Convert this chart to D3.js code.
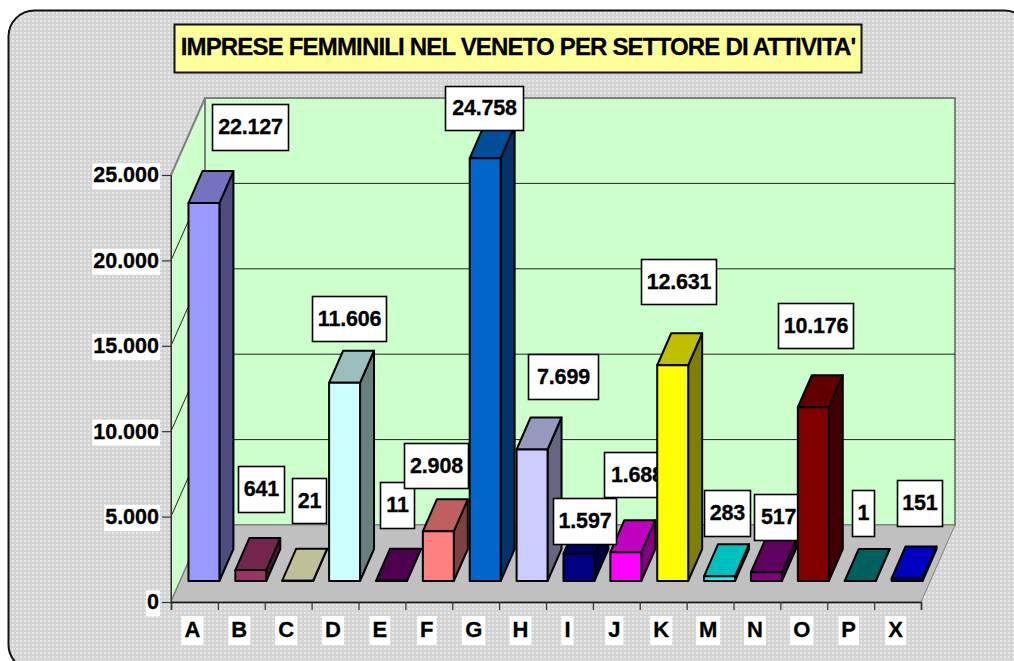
<!DOCTYPE html>
<html><head><meta charset="utf-8">
<script src="https://cdn.jsdelivr.net/npm/d3@7"></script>
<style>
html,body{margin:0;padding:0;background:#fff;overflow:hidden}
svg{display:block}
text{font-family:"Liberation Sans",Arial,sans-serif;font-weight:bold;fill:#000;stroke:#000;stroke-width:.3px}
</style></head><body>
<svg id="c" width="1014" height="661"></svg>
<script>
const categories=["A","B","C","D","E","F","G","H","I","J","K","M","N","O","P","X"];
const values=[22127,641,21,11606,11,2908,24758,7699,1597,1688,12631,283,517,10176,1,151];
const colors=["#9999FF","#993366","#FFFFCC","#CCFFFF","#660066","#FF8080","#0066CC","#CCCCFF","#000080","#FF00FF","#FFFF00","#00FFFF","#800080","#800000","#008080","#0000FF"];
const titleText="IMPRESE FEMMINILI NEL VENETO PER SETTORE DI ATTIVITA'";
const yTicks=[0,5000,10000,15000,20000,25000];
// label box left, top, right, bottom (manually placed in the reference)
const labelBoxes=[[212,104,289,151],[238,466,285,513],[292,478,327,524],[312,296,387,342],[380,482,415,529],[404,443,469,489],[445,86,524,131],[528,354,599,400],[553,498,617,545],[604,452,680,498],[641,259,717,305],[704,490,751,537],[754,494,830,541],[778,303,854,349],[852,490,875,537],[897,480,943,527]];

const plotLeft=171,plotRight=921,plotBase=602,plotTop=175,dx=34,dy=-77;
const barDx=14,barDy=-32,barBase=581,barShift=9.5;
const svg=d3.select("#c");
const fmt=d3.formatLocale({decimal:",",thousands:".",grouping:[3],currency:["",""]}).format(",d");
const x=d3.scaleBand().domain(categories).range([plotLeft,plotRight]).paddingInner(0.34).paddingOuter(0.17);
const y=d3.scaleLinear().domain([0,25000]).range([plotBase,plotTop]);
const h=v=>plotBase-y(v);
const pts=a=>a.map(p=>p.join(",")).join(" ");

// background
const defs=svg.append("defs");
const pat=defs.append("pattern").attr("id","dots").attr("width",4).attr("height",4).attr("patternUnits","userSpaceOnUse");
pat.append("rect").attr("width",4).attr("height",4).attr("fill","#d4d4d4");
pat.append("rect").attr("width",2).attr("height",2).attr("fill","#e6e6e6");
svg.append("rect").attr("x",8.5).attr("y",10.5).attr("width",1022).attr("height",660).attr("rx",26).attr("fill","url(#dots)").attr("stroke","#111").attr("stroke-width",2);

// title
svg.append("rect").attr("x",174.5).attr("y",24.5).attr("width",687).attr("height",48).attr("fill","#FFFF99").attr("stroke","#111").attr("stroke-width",2);
svg.append("text").attr("x",518).attr("y",55).attr("text-anchor","middle").attr("font-size",24).attr("letter-spacing",-0.83).text(titleText);

// walls and floor
const grey="#808080";
svg.append("polygon").attr("points",pts([[plotLeft,plotBase],[plotLeft+dx,plotBase+dy],[plotLeft+dx,plotTop+dy],[plotLeft,plotTop]])).attr("fill","#CCFFCC").attr("stroke",grey).attr("stroke-width",2);
svg.append("polygon").attr("points",pts([[plotLeft+dx,plotBase+dy],[plotRight+dx,plotBase+dy],[plotRight+dx,plotTop+dy],[plotLeft+dx,plotTop+dy]])).attr("fill","#CCFFCC").attr("stroke",grey).attr("stroke-width",2);
svg.append("polygon").attr("points",pts([[plotLeft,plotBase],[plotRight,plotBase],[plotRight+dx,plotBase+dy],[plotLeft+dx,plotBase+dy]])).attr("fill","#C0C0C0").attr("stroke",grey).attr("stroke-width",1);

// gridlines
const grid=svg.append("g").attr("stroke","#222").attr("stroke-width",1).attr("fill","none");
yTicks.filter(t=>t>0&&t<25000).forEach(t=>{
  grid.append("polyline").attr("points",pts([[plotLeft,y(t)],[plotLeft+dx,y(t)+dy],[plotRight+dx,y(t)+dy]]));
});

// axes
const yAxis=svg.append("g").attr("transform",`translate(${plotLeft},0)`).call(d3.axisLeft(y).tickValues(yTicks).tickFormat(fmt).tickSize(9).tickPadding(3));
const xAxis=svg.append("g").attr("transform",`translate(0,${plotBase})`).call(
  d3.axisBottom(d3.scaleLinear().domain([0,categories.length]).range([plotLeft,plotRight])).tickValues(d3.range(categories.length+1)).tickSize(8).tickFormat(""));
yAxis.select(".domain").attr("stroke","#333").attr("stroke-width",1);
xAxis.select(".domain").attr("stroke","#111").attr("stroke-width",1.5);
svg.selectAll(".tick line").attr("stroke","#333").attr("stroke-width",1.2);
yAxis.selectAll("text").attr("font-size",21.5).attr("fill","#000").attr("font-family",'"Liberation Sans",Arial,sans-serif').attr("font-weight","bold").attr("dy","0.32em");
yAxis.selectAll(".tick").each(function(){
  const t=d3.select(this).select("text"),b=t.node().getBBox();
  d3.select(this).insert("rect","text").attr("x",b.x-1).attr("y",b.y).attr("width",b.width+2).attr("height",b.height+2).attr("fill","#fff");
});
const xLabels=svg.append("g");
categories.forEach(c=>{
  const cx=x(c)+x.bandwidth()/2-2;
  const g=xLabels.append("g");
  const t=g.append("text").attr("x",cx).attr("y",637).attr("text-anchor","middle").attr("font-size",22).text(c);
  const b=t.node().getBBox();
  g.insert("rect","text").attr("x",b.x-3).attr("y",616).attr("width",b.width+6).attr("height",29).attr("fill","#fff");
});

// bars + labels, each later bar paints over earlier labels
const shade=(c,k)=>{const o=d3.rgb(c);return d3.rgb(o.r*k,o.g*k,o.b*k).formatHex();};
const barsG=svg.append("g");
let raised=null;
categories.forEach((c,i)=>{
  const g=barsG.append("g").attr("stroke","#000").attr("stroke-width",2).attr("stroke-linejoin","round");
  const x0=x(c)+barShift,x1=x0+x.bandwidth(),yb=barBase,yt=barBase-h(values[i]);
  g.append("polygon").attr("points",pts([[x1,yb],[x1+barDx,yb+barDy],[x1+barDx,yt+barDy],[x1,yt]])).attr("fill",shade(colors[i],.5));
  g.append("polygon").attr("points",pts([[x0,yt],[x1,yt],[x1+barDx,yt+barDy],[x0+barDx,yt+barDy]])).attr("fill",shade(colors[i],.75));
  g.append("rect").attr("x",x0).attr("y",yt).attr("width",x1-x0).attr("height",yb-yt).attr("fill",colors[i]);
  const [l,t,r,bt]=labelBoxes[i];
  const lg=barsG.append("g");
  lg.append("rect").attr("x",l+.5).attr("y",t+.5).attr("width",r-l-1).attr("height",bt-t-1).attr("fill","#fff").attr("stroke","#000").attr("stroke-width",1.6);
  const st=c==="J"||c==="N";
  lg.append("text").attr("x",st?l+7:(l+r)/2).attr("y",(t+bt)/2+6.5).attr("text-anchor",st?"start":"middle").attr("font-size",21.5).attr("letter-spacing",-0.2).text(fmt(values[i]));
  if(c==="I")raised=lg;
});
raised.raise();
</script></body></html>
